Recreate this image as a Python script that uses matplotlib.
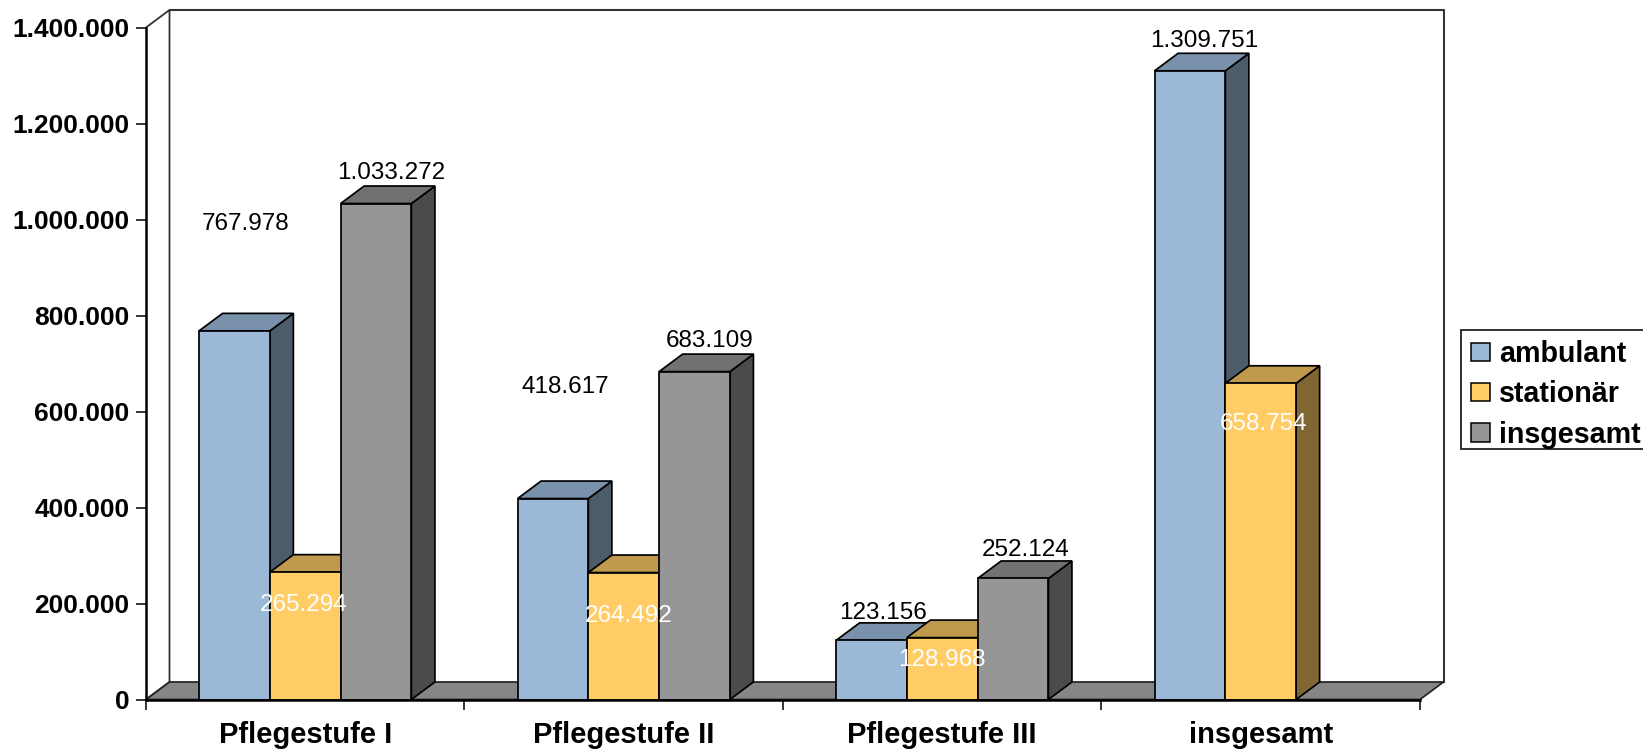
import matplotlib
matplotlib.use('Agg')
import matplotlib.pyplot as plt
import numpy as np
from matplotlib.patches import Patch, Polygon, Rectangle

# Daten
kategorien = ['Pflegestufe I', 'Pflegestufe II', 'Pflegestufe III', 'insgesamt']
serien = ['ambulant', 'stationär', 'insgesamt']
ambulant = [767978, 418617, 123156, 1309751]
stationaer = [265294, 264492, 128968, 658754]
insgesamt = [1033272, 683109, 252124, np.nan]
y_ticks = [0, 200000, 400000, 600000, 800000, 1000000, 1200000, 1400000]

# Farben: Front, Deckel, Seite
farben = [('#9BB8D6', '#7A91AB', '#4D5C6B'),
          ('#FFCC66', '#BF994C', '#806633'),
          ('#969696', '#717171', '#4B4B4B')]
label_farben = ['black', 'white', 'black']

# Versatz der Beschriftungen zum Balkendeckel (Pixel)
label_dx = [[10.6, 12, 11.6, 14], [-2, 4.5, 0, 2.5], [15.4, 15, 12.4, 0]]
label_dy = [[106.5, 112, 27.5, 29.5], [-32.5, -43, -22.5, -41], [31, 31, 28, 0]]

plt.rcParams['font.family'] = ['Liberation Sans', 'DejaVu Sans']

W, H = 1643, 749
fig = plt.figure(figsize=(W / 100, H / 100), dpi=100)
x0, x1, y0, y1 = 146, 1420, 699.5, 27.5  # Frontebene in Pixeln
ax = fig.add_axes([x0 / W, 1 - y0 / H, (x1 - x0) / W, (y0 - y1) / H])
ax.set_xlim(0, 4)
ax.set_ylim(0, 1400000)
ax.patch.set_visible(False)

# 3D-Tiefe in Datenwerten
dx = 23.5 / (x1 - x0) * 4
dy = 17.5 / (y0 - y1) * 1400000
breite = 1 / 4.5
kante = 1.25

# Rueckwand und Boden
wand = Polygon([(0, 0), (dx, dy), (dx, 1400000 + dy), (0, 1400000)], closed=False,
               fc='white', ec='#333333', lw=1.3, clip_on=False, zorder=0)
ax.add_patch(wand)
ax.plot([dx, 4 + dx, 4 + dx], [1400000 + dy, 1400000 + dy, dy], color='#333333',
        lw=1.5, clip_on=False, zorder=0.5)
boden = Polygon([(0, 0), (4, 0), (4 + dx, dy), (dx, dy)], fc='#868686', ec='#222222',
                lw=1.25, clip_on=False, zorder=1)
ax.add_patch(boden)

# Balken
z = 2
for s, werte in enumerate([ambulant, stationaer, insgesamt]):
    front, deckel, seite = farben[s]
    for i, v in enumerate(werte):
        if np.isnan(v):
            continue
        links = i + 0.5 + (s - 1.5) * breite
        rechts = links + breite
        ax.add_patch(Polygon([(rechts, 0), (rechts + dx, dy), (rechts + dx, v + dy), (rechts, v)],
                             fc=seite, ec='black', lw=kante, clip_on=False, zorder=z))
        ax.add_patch(Polygon([(links, v), (rechts, v), (rechts + dx, v + dy), (links + dx, v + dy)],
                             fc=deckel, ec='black', lw=kante, clip_on=False, zorder=z))
        ax.bar(links, v, breite, align='edge', color=front, edgecolor='black', lw=kante,
               clip_on=False, zorder=z)
        ax.annotate(f'{v:,}'.replace(',', '.'), xy=(links + breite / 2, v),
                    xytext=(label_dx[s][i] * 0.72, label_dy[s][i] * 0.72),
                    textcoords='offset points', ha='center', va='center', fontsize=17.5,
                    color=label_farben[s], annotation_clip=False, zorder=50)
        z += 1

# Achsen
for name in ['top', 'right']:
    ax.spines[name].set_visible(False)
ax.spines['left'].set_linewidth(1.8)
ax.spines['bottom'].set_linewidth(1.8)
ax.spines['left'].set_zorder(40)
ax.spines['bottom'].set_zorder(40)

ax.set_yticks(y_ticks)
ax.set_yticklabels([f'{t:,}'.replace(',', '.') for t in y_ticks], fontsize=19, fontweight='bold')
ax.tick_params(axis='y', length=7.2, width=1.1, pad=4.7)
ax.set_xticks([0, 1, 2, 3, 4])
ax.set_xticklabels([])
ax.set_xticks([0.5, 1.5, 2.5, 3.5], minor=True)
ax.set_xticklabels(kategorien, minor=True, fontsize=21, fontweight='bold')
ax.tick_params(axis='x', which='major', length=7.2, width=1.1)
ax.tick_params(axis='x', which='minor', length=0, pad=15.3)

# Legende, Rahmen extra weil er rechts am Bildrand abgeschnitten ist
fig.add_artist(Rectangle((1461 / W, 1 - 449 / H), 190 / W, 119 / H, transform=fig.transFigure,
                         fc='white', ec='#222222', lw=1.3))
griffe = [Patch(fc=farben[k][0], ec='black', lw=1.1, label=serien[k]) for k in range(3)]
leg = fig.legend(handles=griffe, loc='upper left', bbox_to_anchor=(1471 / W, 1 - 340 / H),
                 bbox_transform=fig.transFigure, borderaxespad=0, frameon=False,
                 prop={'size': 20.6, 'weight': 'bold'}, handlelength=0.68, handleheight=0.6,
                 handletextpad=0.3, labelspacing=0.43, borderpad=0)

fig.savefig('out.png', dpi=100)
